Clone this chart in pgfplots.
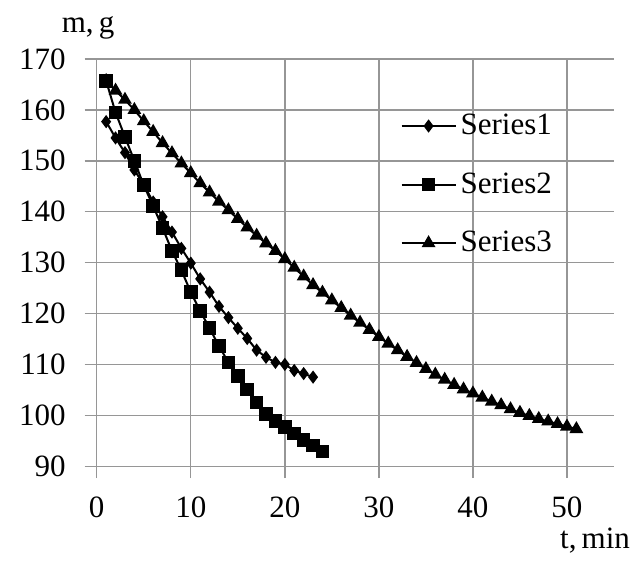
\documentclass[border=0pt]{standalone}
\usepackage{fontspec}
\setmainfont{Liberation Serif}
\usepackage{pgfplots}
\pgfplotsset{compat=1.18}

\definecolor{gridgray}{RGB}{150,150,150}

\begin{document}
\begin{tikzpicture}[font=\fontsize{15.5}{17}\selectfont]
\begin{axis}[
    scale only axis,
    width=258.5pt, height=203.5pt,
    xmin=0, xmax=55, ymin=90, ymax=170,
    xtick={0,10,...,50}, ytick={90,100,...,170},
    /pgf/number format/assume math mode=true,
    axis x line*=bottom, axis y line*=left,
    axis line style={gridgray, line width=0.7pt, -},
    grid=major,
    major grid style={gridgray, line width=0.7pt},
    tick align=outside, major tick length=6pt,
    tick style={gridgray, line width=0.7pt},
    yticklabel style={xshift=-6pt},
    xticklabel style={yshift=-6pt},
    clip=false,
    legend style={draw=none, fill=none, at={(0.575,0.885)}, anchor=north west,
        row sep=13.5pt, font=\fontsize{15.5}{17}\selectfont},
    legend cell align=left,
    legend image code/.code={\draw[mark repeat=2,mark phase=2,#1]
        plot coordinates {(0pt,0pt) (13.5pt,0pt) (27pt,0pt)};},
    every axis plot/.append style={black, line width=1pt},
]
\addplot[mark=diamond*, mark size=2.5pt] coordinates {
(1,157.7) (2,154.5) (3,151.6) (4,148.2) (5,145.3) (6,141.9) (7,139.0) (8,136.0)
(9,132.8) (10,129.9) (11,126.8) (12,124.2) (13,121.4) (14,119.2) (15,117.1)
(16,115.1) (17,112.8) (18,111.4) (19,110.4) (20,110.0) (21,108.8) (22,108.2) (23,107.5)
};
\addplot[mark=square*, mark size=2.9pt] coordinates {
(1,165.7) (2,159.5) (3,154.7) (4,150.0) (5,145.2) (6,141.1) (7,136.8) (8,132.3)
(9,128.5) (10,124.2) (11,120.5) (12,117.1) (13,113.6) (14,110.4) (15,107.7)
(16,105.1) (17,102.5) (18,100.3) (19,98.9) (20,97.7) (21,96.4) (22,95.2)
(23,94.1) (24,92.9)
};
\addplot[mark=triangle*, mark size=3pt] coordinates {
(1,165.7) (2,163.8) (3,162.0) (4,160.0) (5,157.8) (6,155.7) (7,153.5) (8,151.5)
(9,149.5) (10,147.6) (11,145.6) (12,143.8) (13,142.0) (14,140.3) (15,138.6)
(16,136.9) (17,135.3) (18,133.8) (19,132.3) (20,130.7) (21,129.0) (22,127.3)
(23,125.6) (24,124.1) (25,122.6) (26,121.1) (27,119.6) (28,118.2) (29,116.8)
(30,115.4) (31,114.1) (32,112.8) (33,111.5) (34,110.3) (35,109.1) (36,108.0)
(37,107.0) (38,106.0) (39,105.1) (40,104.3) (41,103.5) (42,102.7) (43,102.0)
(44,101.2) (45,100.5) (46,99.9) (47,99.3) (48,98.8) (49,98.3) (50,97.8) (51,97.3)
};
\legend{Series1, Series2, Series3}
\end{axis}
\path (current axis.south west) ++(-4.35pt,219pt) node {m,\,g};
\path (current axis.south east) ++(11.5pt,-41.3pt) node[anchor=base east] {t,\,min};
\path (current axis.south west) ++(-48.35pt,-42.5pt);
\path (current axis.north east) ++(12pt,29.5pt);
\end{tikzpicture}
\end{document}
